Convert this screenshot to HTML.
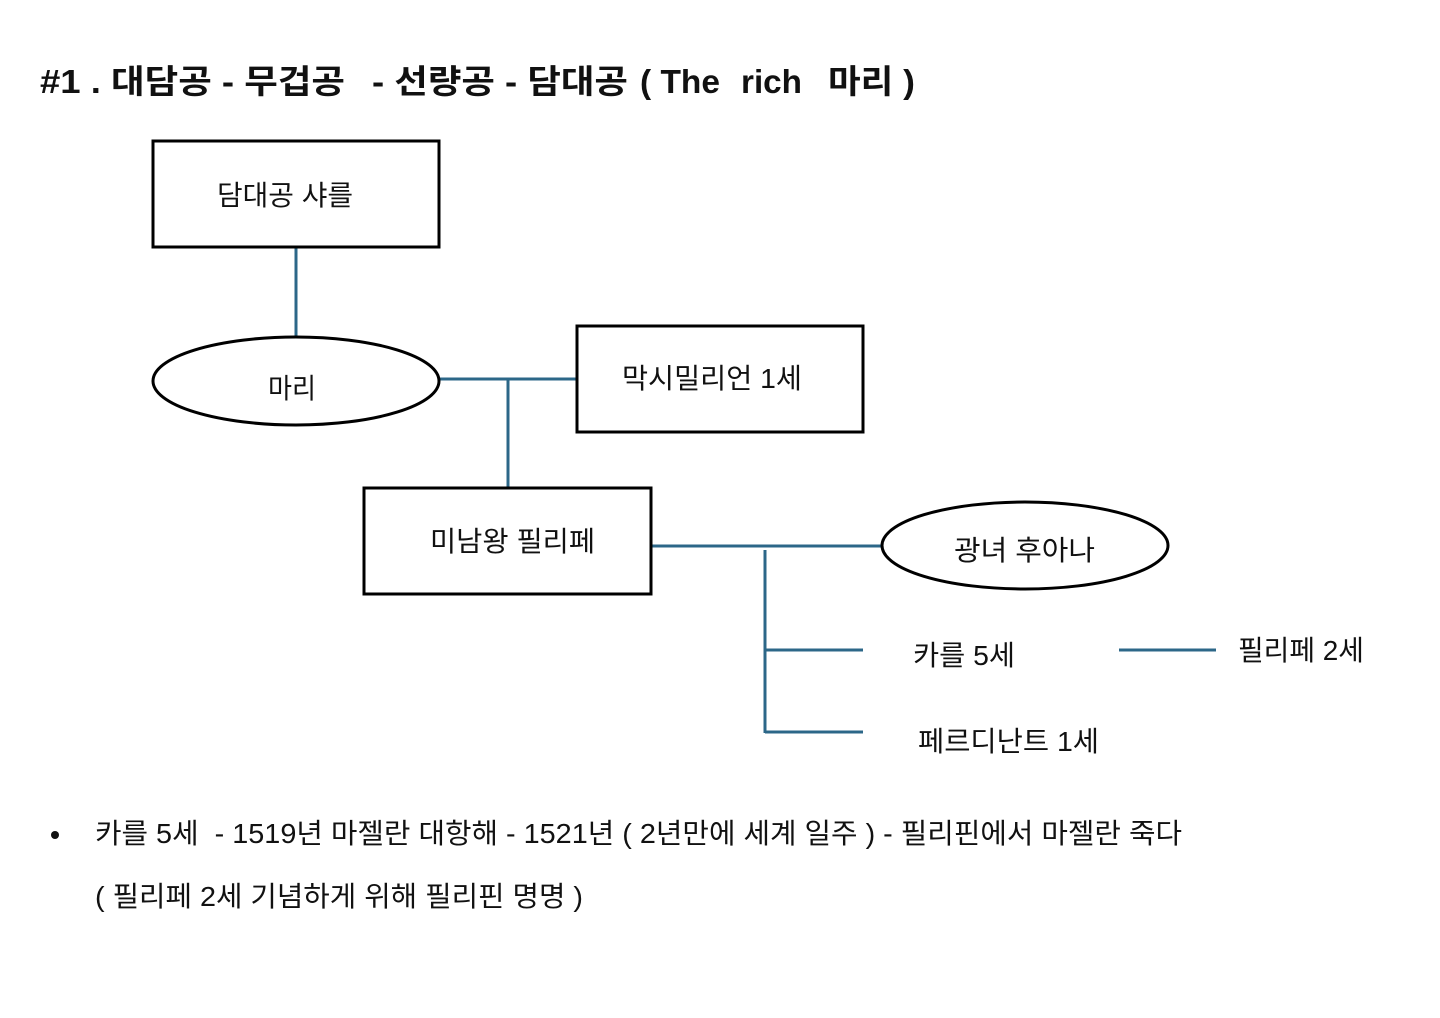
<!DOCTYPE html>
<html>
<head>
<meta charset="utf-8">
<style>
html,body{margin:0;padding:0;background:#fff;}
svg{display:block;}
text{font-family:"Liberation Sans","Noto Sans CJK KR","NanumGothic",sans-serif;fill:#111;white-space:pre;}
.t{font-weight:bold;font-size:33px;}
.l{font-size:28px;}
.b{font-size:28px;}
</style>
</head>
<body>
<svg width="1440" height="1018" viewBox="0 0 1440 1018" xmlns="http://www.w3.org/2000/svg">
  <!-- title -->
  <text class="t" x="40" y="93" textLength="305" lengthAdjust="spacingAndGlyphs">#1 . 대담공 - 무겁공</text>
  <text class="t" x="372" y="93" textLength="256" lengthAdjust="spacingAndGlyphs">- 선량공 - 담대공</text>
  <text class="t" x="640" y="93" textLength="80" lengthAdjust="spacingAndGlyphs">( The</text>
  <text class="t" x="741" y="93" textLength="61" lengthAdjust="spacingAndGlyphs">rich</text>
  <text class="t" x="828" y="93" textLength="87" lengthAdjust="spacingAndGlyphs">마리 )</text>

  <!-- connectors -->
  <g stroke="#2c6788" stroke-width="3" fill="none">
    <line x1="296" y1="247" x2="296" y2="337"/>
    <line x1="439" y1="379" x2="577" y2="379"/>
    <line x1="508" y1="379" x2="508" y2="488"/>
    <line x1="651" y1="546" x2="881" y2="546"/>
    <line x1="765" y1="550" x2="765" y2="733"/>
    <line x1="765" y1="650" x2="863" y2="650"/>
    <line x1="765" y1="732" x2="863" y2="732"/>
    <line x1="1119" y1="650" x2="1216" y2="650"/>
  </g>

  <!-- shapes -->
  <g stroke="#000" stroke-width="3" fill="#fff">
    <rect x="153" y="141" width="286" height="106"/>
    <ellipse cx="296" cy="381" rx="143" ry="44"/>
    <rect x="577" y="326" width="286" height="106"/>
    <rect x="364" y="488" width="287" height="106"/>
    <ellipse cx="1025" cy="545.5" rx="143" ry="43.5"/>
  </g>

  <!-- labels -->
  <text class="l" x="217" y="205" textLength="136" lengthAdjust="spacingAndGlyphs">담대공 샤를</text>
  <text class="l" x="268" y="398" textLength="48" lengthAdjust="spacingAndGlyphs">마리</text>
  <text class="l" x="622" y="388" textLength="180" lengthAdjust="spacingAndGlyphs">막시밀리언 1세</text>
  <text class="l" x="430" y="551" textLength="165" lengthAdjust="spacingAndGlyphs">미남왕 필리페</text>
  <text class="l" x="954" y="560" textLength="141" lengthAdjust="spacingAndGlyphs">광녀 후아나</text>
  <text class="l" x="913" y="665" textLength="102" lengthAdjust="spacingAndGlyphs">카를 5세</text>
  <text class="l" x="1238" y="660" textLength="126" lengthAdjust="spacingAndGlyphs">필리페 2세</text>
  <text class="l" x="918" y="751" textLength="181" lengthAdjust="spacingAndGlyphs">페르디난트 1세</text>

  <!-- body -->
  <circle cx="55" cy="835" r="4" fill="#111"/>
  <text class="b" x="95" y="843" textLength="1087" lengthAdjust="spacingAndGlyphs">카를 5세  - 1519년 마젤란 대항해 - 1521년 ( 2년만에 세계 일주 ) - 필리핀에서 마젤란 죽다</text>
  <text class="b" x="95" y="906" textLength="488" lengthAdjust="spacingAndGlyphs">( 필리페 2세 기념하게 위해 필리핀 명명 )</text>
</svg>
</body>
</html>
